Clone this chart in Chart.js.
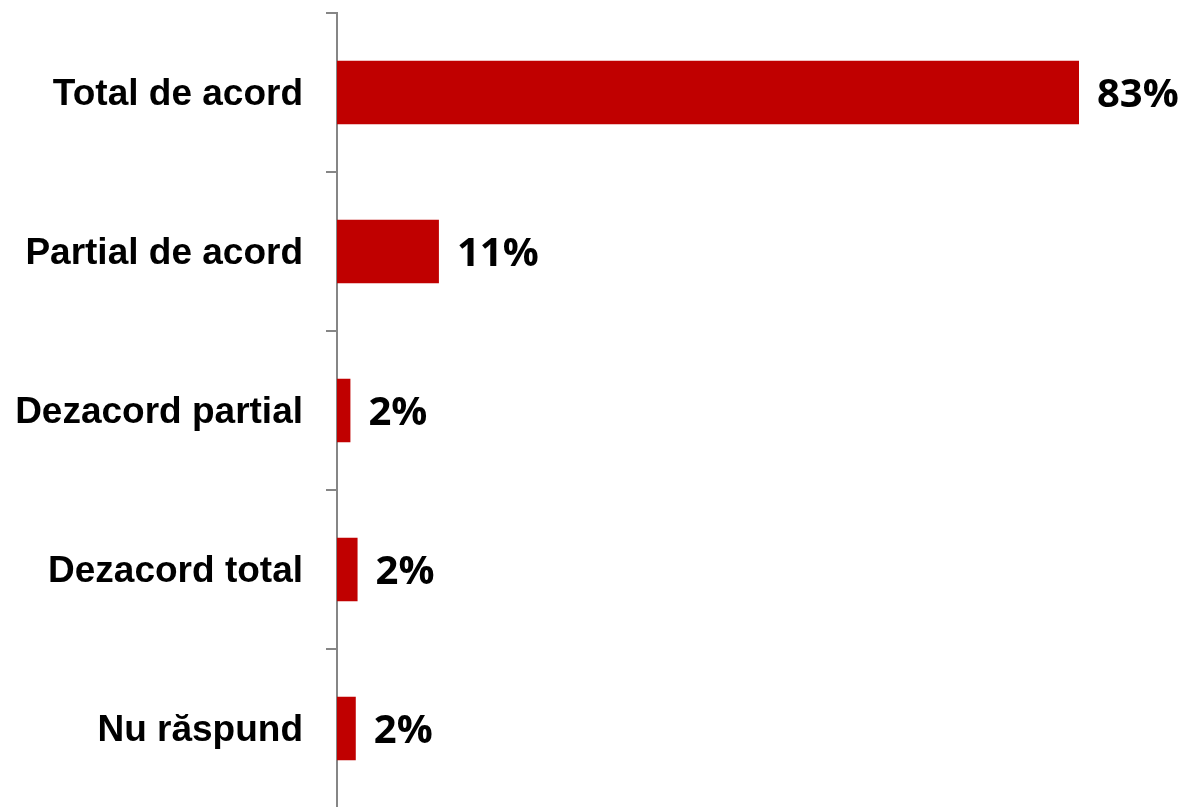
<!DOCTYPE html>
<html>
<head>
<meta charset="utf-8">
<script src="https://cdn.jsdelivr.net/npm/chart.js@4"></script>
<style>
  html, body { margin: 0; padding: 0; background: #fff; overflow: hidden; }
  #wrap { width: 1184px; height: 807px; overflow: hidden; }
</style>
</head>
<body>
<div id="wrap"><canvas id="myChart" width="1184" height="808"></canvas></div>
<script>
const categories = ['Total de acord', 'Partial de acord', 'Dezacord partial', 'Dezacord total', 'Nu răspund'];
const values = [83, 11.4, 1.5, 2.3, 2.1];

// etichete cu valori la capatul barelor
const valueLabels = {
  id: 'valueLabels',
  afterDatasetsDraw(chart) {
    const { ctx } = chart;
    const meta = chart.getDatasetMeta(0);
    ctx.save();
    ctx.font = 'bold 40px "Open Sans"';
    ctx.fillStyle = '#000';
    ctx.textAlign = 'left';
    ctx.textBaseline = 'middle';
    meta.data.forEach((bar, i) => {
      ctx.fillText(Math.round(values[i]) + '%', bar.x + 18, bar.y + 3);
    });
    ctx.restore();
  }
};

new Chart(document.getElementById('myChart'), {
  type: 'bar',
  data: {
    labels: categories,
    datasets: [
      {
        data: values,
        backgroundColor: '#C00000',
        borderWidth: 0,
        barPercentage: 0.4,
        categoryPercentage: 1
      }
    ]
  },
  options: {
    indexAxis: 'y',
    responsive: false,
    animation: false,
    layout: {
      padding: { top: 13, right: 105, bottom: 0, left: 0 }
    },
    plugins: {
      legend: { display: false },
      tooltip: { enabled: false }
    },
    scales: {
      x: {
        display: false,
        min: 0,
        max: Math.max(...values)
      },
      y: {
        afterFit(scale) {
          scale.width = 337;
          scale.paddingTop = 0;
          scale.paddingBottom = 0;
        },
        border: { display: true, color: '#868686', width: 2 },
        grid: {
          drawOnChartArea: false,
          drawTicks: true,
          tickLength: 11,
          color: '#868686',
          lineWidth: 2
        },
        ticks: {
          color: '#000',
          padding: 23,
          labelOffset: 2,
          font: { family: '"Liberation Sans", Arial', weight: 'bold', size: 37 }
        }
      }
    }
  },
  plugins: [valueLabels]
});
</script>
</body>
</html>
